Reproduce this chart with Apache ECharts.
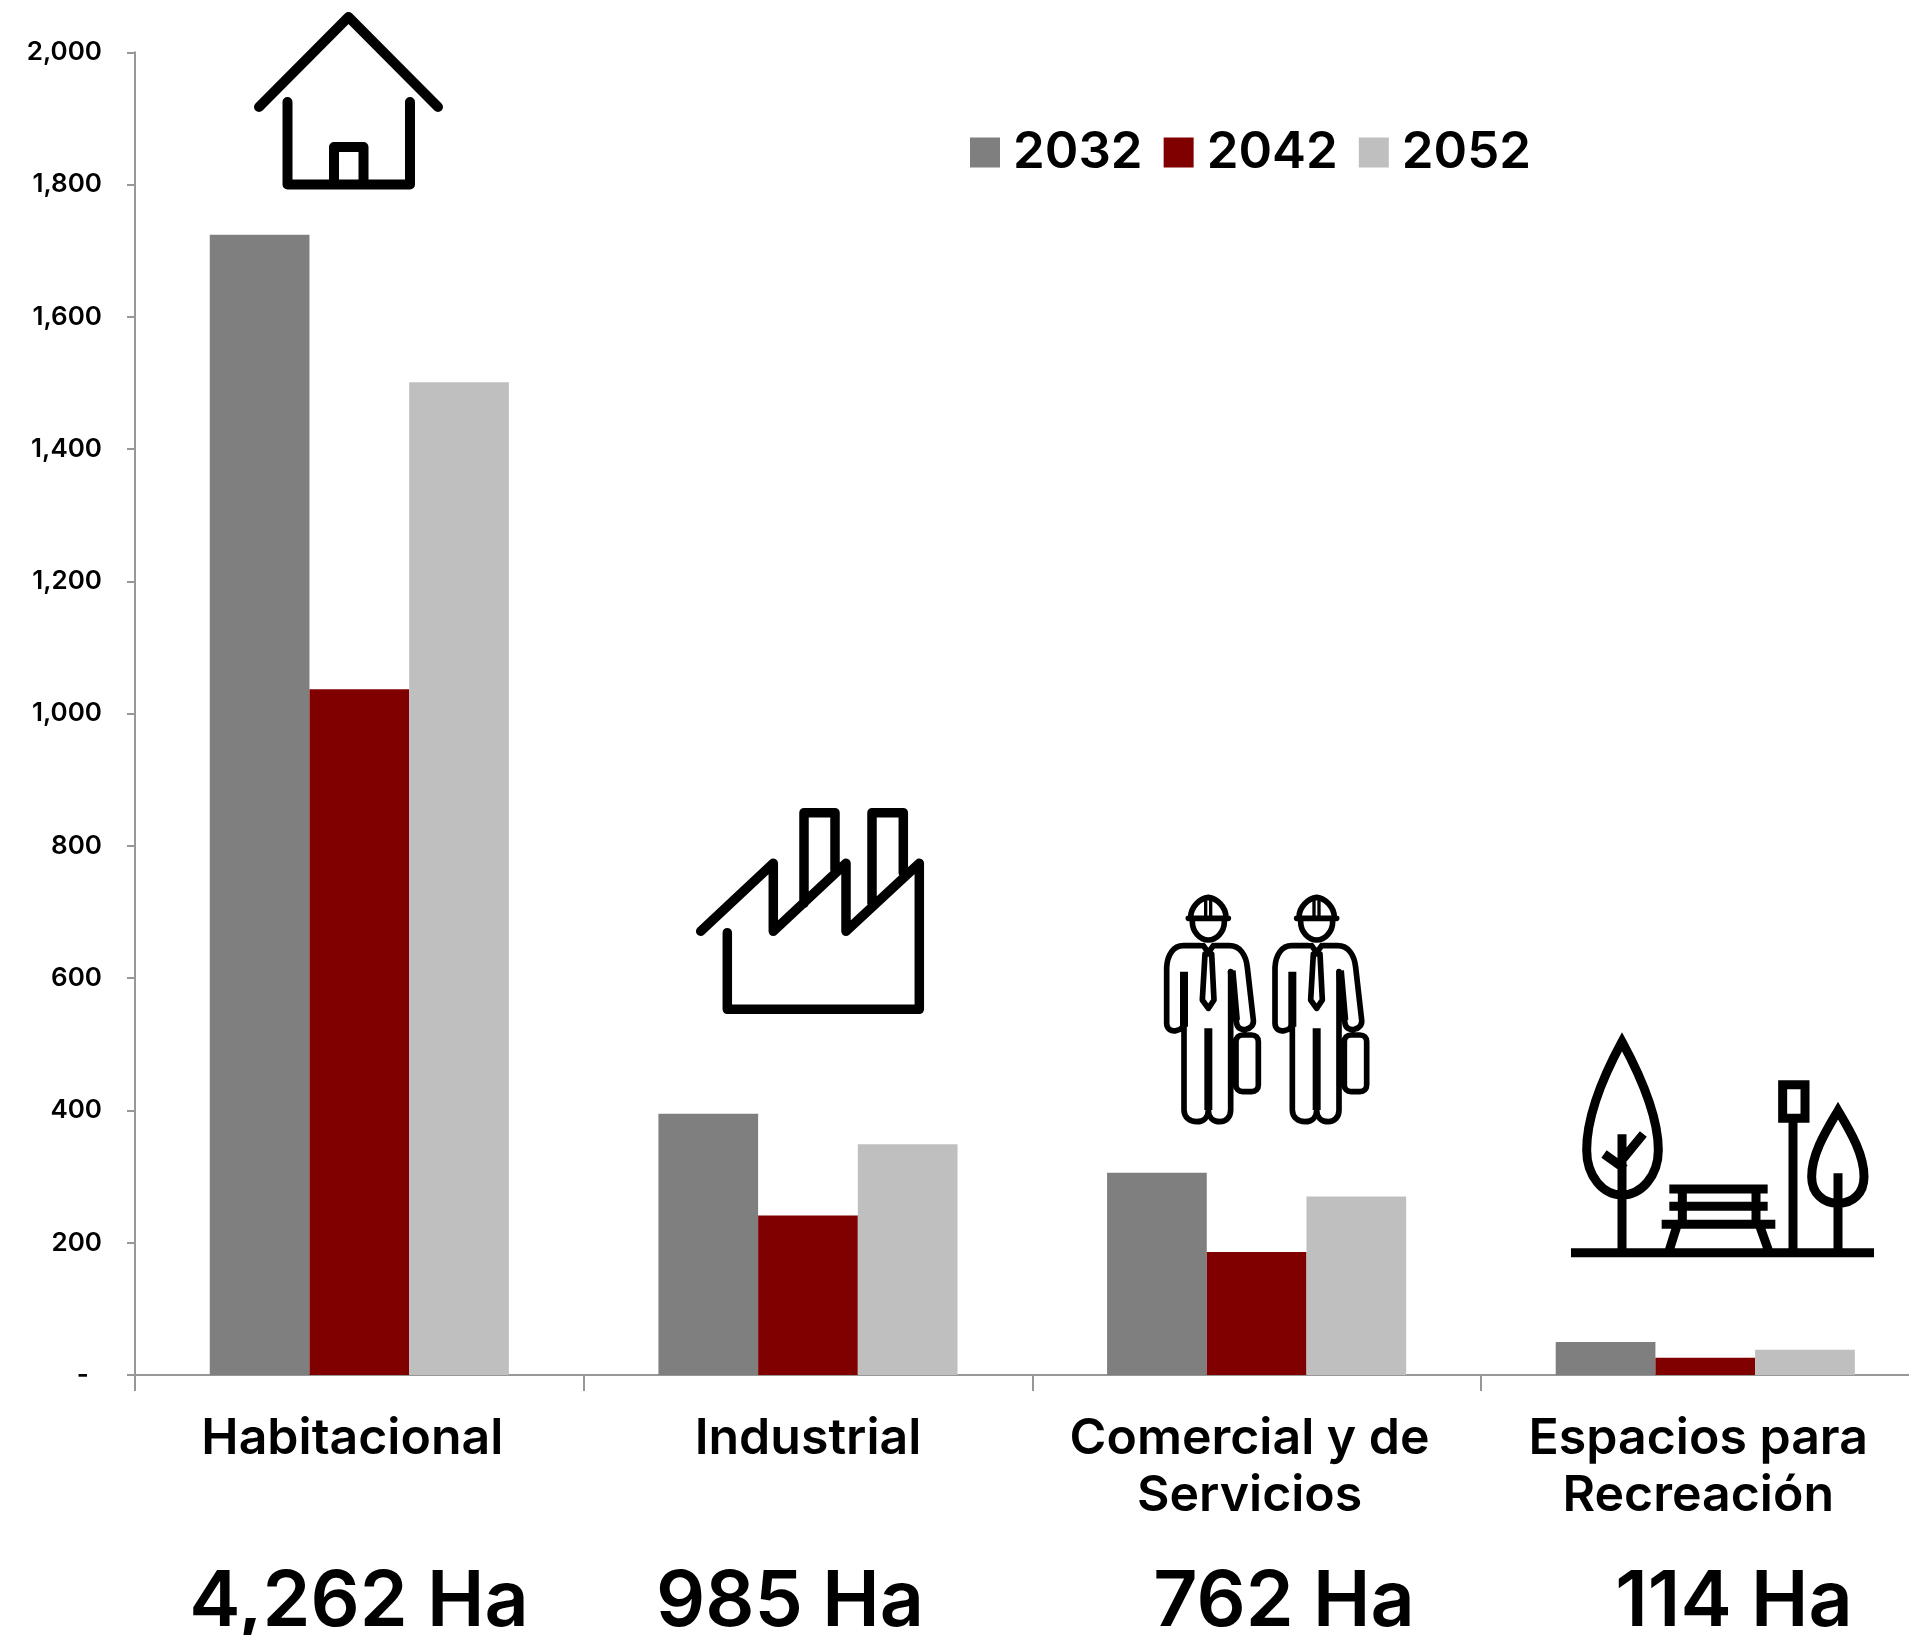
<!DOCTYPE html>
<html lang="es">
<head>
    <meta charset="UTF-8">
    <title>Superficie por uso de suelo</title>
    <style>
        html, body { margin: 0; padding: 0; background: #fff; }
        #myEcharts { width: 1909px; height: 1635px; }
    </style>
    <script src="https://cdn.jsdelivr.net/npm/echarts@6/dist/echarts.min.js"></script>
</head>
<body>
<div id="myEcharts"></div>
<script>
    // datos
    const categories = ['Habitacional', 'Industrial', 'Comercial y de\nServicios', 'Espacios para\nRecreación'];
    const years = ['2032', '2042', '2052'];
    const values2032 = [1724, 395, 306, 50];
    const values2042 = [1037, 241, 186, 26];
    const values2052 = [1501, 349, 270, 38];
    const totals = ['4,262 Ha', '985 Ha', '762 Ha', '114 Ha'];

    const FONT = 'Inter';
    const colors = ['#7f7f7f', '#800000', '#bfbfbf'];
    const axisColor = '#979797';

    // rectifica el centro de cada etiqueta del eje x
    const labelPadding = [[0, 14, 0, 0], [0, 0, 0, 0], [0, 14, 0, 0], [0, 14, 0, 0]];
    const totalCenters = [359, 790, 1284, 1734];

    // iconos, en coordenadas de pixel o de recorte
    const icons = [
        {
            name: 'house', x: 0, y: 0, scale: 1, lineWidth: 10, cap: 'round', join: 'round',
            d: 'M259 107 L348.5 17 L438 107 M287.5 102 L287.5 184.5 L410 184.5 L410 102 M334 184.5 L334 147 L363.5 147 L363.5 184.5'
        },
        {
            name: 'factory', x: 0, y: 0, scale: 1, lineWidth: 9.5, cap: 'round', join: 'round',
            d: 'M700.7 931.3 L773.3 863.3 L773.3 931.3 L846 863.3 L846 931.3 L919.3 863.3 L919.3 1009.3 L727.3 1009.3 L727.3 932.7 ' +
               'M804 903.3 L804 812.7 L835 812.7 L835 870 M872 903.3 L872 812.7 L903.3 812.7 L903.3 873'
        }
    ];
    const workerOutline = 'M152 112 C152 80 180 55 205 52 C230 55 258 80 258 112 M145 115 L265 115 ' +
        'M157 125 C157 155 180 180 205 180 C230 180 253 155 253 125 ' +
        'M180 197 L130 197 C100 197 82 225 80 262 L80 430 C80 448 95 455 108 452 C122 450 132 440 132 425 L132 690 ' +
        'C132 712 150 725 170 725 C190 725 205 712 205 690 C205 712 220 725 240 725 C258 725 272 712 272 690 L272 275 ' +
        'M272 275 L290 430 C292 445 305 450 318 448 C332 445 342 435 340 420 L322 262 C318 225 300 197 268 197 L225 197 ' +
        'M190 197 L205 218 L220 197 M195 222 L187 360 L205 385 L222 360 L215 222 Z ' +
        'M308 465 L335 465 C347 465 355 473 355 485 L355 615 C355 627 347 635 335 635 L308 635 C296 635 288 627 288 615 L288 485 C288 473 296 465 308 465 Z';
    const workerBars = 'M132 275 L132 440 M205 445 L205 690 M275 272 L288 420';
    const workerRidge = 'M197 56 L197 112 M212 56 L212 112';
    [0, 325].forEach(function (dx, i) {
        icons.push({ name: 'workerA' + i, x: 1140 + dx / 3, y: 880, scale: 1 / 3, lineWidth: 17, cap: 'round', join: 'round', d: workerOutline });
        icons.push({ name: 'workerB' + i, x: 1140 + dx / 3, y: 880, scale: 1 / 3, lineWidth: 24, cap: 'butt', join: 'miter', d: workerBars });
        icons.push({ name: 'workerC' + i, x: 1140 + dx / 3, y: 880, scale: 1 / 3, lineWidth: 10, cap: 'butt', join: 'miter', d: workerRidge });
    });
    icons.push({
        name: 'park', x: 1560, y: 1020, scale: 1 / 3, lineWidth: 27, cap: 'butt', join: 'miter',
        d: 'M33 698 L942 698 M186 698 L186 343 M250 342 L190 415 M132 402 L195 447 ' +
           'M186 65 C140 150 80 280 80 390 C80 470 130 525 186 525 C242 525 295 470 295 390 C295 280 232 150 186 65 Z ' +
           'M328 507 L623 507 M328 559 L623 559 M305 613 L646 613 M367 507 L367 613 M588 507 L588 613 ' +
           'M350 620 L328 690 M600 620 L625 690 ' +
           'M668 194 L735 194 L735 295 L668 295 Z M699 308 L699 698 ' +
           'M834 698 L834 460 M834 272 C800 330 755 400 755 470 C755 520 790 550 834 550 C878 550 912 520 912 470 C912 400 868 330 834 272 Z'
    });

    // registrar formas para usarlas en graphic
    icons.forEach(function (icon) {
        echarts.graphic.registerShape(icon.name, echarts.graphic.extendPath(icon.d));
    });

    const iconElements = icons.map(function (icon) {
        return {
            type: icon.name,
            x: icon.x,
            y: icon.y,
            scaleX: icon.scale,
            scaleY: icon.scale,
            silent: true,
            style: { fill: 'none', stroke: '#000', lineWidth: icon.lineWidth, lineCap: icon.cap, lineJoin: icon.join }
        };
    });

    const totalElements = totals.map(function (text, i) {
        return {
            type: 'text',
            x: totalCenters[i],
            y: 1603,
            silent: true,
            style: {
                text: text, fill: '#000', font: '600 77px ' + FONT,
                textAlign: 'center', textVerticalAlign: 'middle'
            }
        };
    });

    const myChart = echarts.init(document.getElementById('myEcharts'));

    const option = {
        animation: false,
        backgroundColor: '#fff',
        textStyle: { fontFamily: FONT, color: '#000' },
        grid: { left: 135, top: 52.3, width: 1794.6, height: 1322.7, outerBoundsMode: 'none' },
        legend: {
            left: 970,
            top: 127,
            padding: 0,
            selectedMode: false,
            data: years,
            icon: 'rect',
            itemWidth: 30,
            itemHeight: 30,
            itemGap: 21,
            textStyle: { fontFamily: FONT, fontSize: 51, fontWeight: 600, color: '#000', padding: [0, 0, 6, 8] }
        },
        xAxis: {
            type: 'category',
            data: categories.map(function (name, i) {
                return { value: name, textStyle: { padding: labelPadding[i] } };
            }),
            axisLine: { lineStyle: { color: axisColor, width: 2 } },
            axisTick: { show: true, length: 16, lineStyle: { color: axisColor, width: 2 } },
            axisLabel: {
                interval: 0, margin: 35, fontFamily: FONT, fontSize: 50, fontWeight: 600,
                lineHeight: 57, color: '#000'
            }
        },
        yAxis: {
            type: 'value',
            min: 0,
            max: 2000,
            interval: 200,
            splitLine: { show: false },
            axisLine: { show: true, lineStyle: { color: axisColor, width: 2 } },
            axisTick: { show: true, length: 8, lineStyle: { color: axisColor, width: 2 } },
            axisLabel: {
                margin: 33, fontFamily: FONT, fontSize: 26, fontWeight: 600, color: '#000',
                padding: [2, 0, 0, 0],
                formatter: function (v) {
                    return v === 0 ? '-  ' : v.toLocaleString('en-US');
                }
            }
        },
        series: [values2032, values2042, values2052].map(function (data, i) {
            return {
                name: years[i],
                type: 'bar',
                data: data,
                barGap: '0%',
                barCategoryGap: '33.33%',
                itemStyle: { color: colors[i] }
            };
        }),
        graphic: { elements: iconElements.concat(totalElements) }
    };

    myChart.setOption(option);
</script>
</body>
</html>
